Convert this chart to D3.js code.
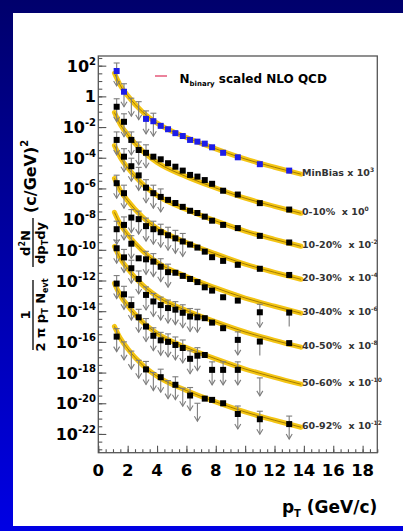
<!DOCTYPE html>
<html>
<head>
<meta charset="utf-8">
<script src="https://cdn.jsdelivr.net/npm/d3@7"></script>
<style>
  html, body { margin: 0; padding: 0; }
  body { width: 403px; height: 531px; overflow: hidden; background: linear-gradient(#00006c, #0000e4); }
  text { font-family: "DejaVu Sans", sans-serif; font-weight: bold; white-space: pre; }
</style>
</head>
<body>
<div id="chart"></div>
<script>
// pT bin centres (GeV/c)
const ptBins = [1.25, 1.75, 2.25, 2.75, 3.25, 3.75, 4.25, 4.75, 5.25, 5.75, 6.25, 6.75, 7.25, 7.75, 8.5, 9.5, 11, 13];

// yields per class (already multiplied by the class factor)
// kind: o = point, a = point + upper-limit arrow, l = limit only, e = point + long error, - = nothing
const minBias   = [45, 2.0, 0.76, 0.45, 3.4e-2, 2.4e-2, 1.2e-2, 7.2e-3, 4.0e-3, 2.6e-3, 1.45e-3, 1.12e-3, 8.3e-4, 4.8e-4, 2.1e-4, 1.07e-4, 3.8e-5, 1.45e-5];
const minBiasK  = "aallaaoooooooooooo";
const cent0010  = [0.21, 2.2e-2, 1.45e-3, 3.2e-4, 2.1e-4, 1.17e-4, 7.9e-5, 4.4e-5, 2.6e-5, 1.45e-5, 7.6e-6, 5.9e-6, 3.5e-6, 2.0e-6, 7.1e-7, 4.0e-7, 1.1e-7, 4.2e-8];
const cent0010K = "aaaaaooooooooooooo";
const cent1020  = [1.45e-3, 1.17e-4, 2.8e-5, 7.1e-6, 1.12e-6, 4.9e-7, 2.8e-7, 1.8e-7, 1.12e-7, 6.3e-8, 3.5e-8, 2.5e-8, 1.45e-8, 7.9e-9, 4.2e-9, 2.6e-9, 8.1e-10, 3.0e-10];
const cent1020K = "aaaaaaaooooooooooo";
const cent2030  = [2.2e-6, 4.9e-7, 1.26e-8, 1.0e-8, 3.5e-9, 2.2e-9, 1.4e-9, 8.9e-10, 5.6e-10, 3.5e-10, 2.2e-10, 1.4e-10, 7.6e-11, 3.3e-11, 1.9e-11, 1.05e-11, 5.8e-12, 2.3e-12];
const cent2030K = "aaaaaaaaaaoooooooo";
const cent3040  = [2.2e-9, 4.2e-9, 2.5e-10, 2.8e-11, 2.4e-11, 1.7e-11, 7.9e-12, 3.5e-12, 3.2e-12, 2.0e-12, 1.26e-12, 7.9e-13, 3.6e-13, 2.2e-13, 8.1e-14, 4.9e-14, 8.5e-15, 8.1e-15];
const cent3040K = "aaaoaaaaooooooooae";
const cent4050  = [1.26e-10, 3.2e-11, 6.3e-12, 1.26e-12, 1.15e-13, 4.3e-14, 2.5e-14, 1.6e-14, 1.26e-14, 7.9e-15, 4.5e-15, 4.0e-15, 3.5e-15, 1.8e-15, 7.8e-16, 1.35e-16, 1.05e-16, 8.3e-17];
const cent4050K = "aaaaaaaaaaaaoooaeo";
const cent5060  = [6.3e-13, 1.26e-13, 2.5e-14, 4.0e-15, 1.0e-15, 2.5e-16, 1.26e-16, 1.0e-16, 6.3e-17, 4.0e-17, 7.9e-18, 1.26e-17, 1.4e-17, 1.5e-18, 1.5e-18, 1.5e-18, 4.5e-19, null];
const cent5060K = "aaaaaaaaaaaaoaaal-";
const cent6092  = [2.2e-16, 1.0e-16, 2.5e-17, 6.3e-18, 1.6e-18, 1.0e-18, 5.0e-19, 3.0e-19, 1.6e-19, 9.5e-20, 3.2e-20, 1.0e-20, 2.0e-20, 1.66e-20, 1.0e-20, 2.0e-21, 9.1e-22, 4.4e-22];
const cent6092K = "alllalalalaloooaaa";

// N_binary scaled NLO QCD curves
const curvePt     = [1.1, 1.5, 2, 3, 4, 6, 8, 10, 12, 13.8];
const nloMinBias  = [32, 5.2, 1.12, 0.1, 1.8e-2, 2.1e-3, 3.8e-4, 8.3e-5, 2.4e-5, 8.5e-6];
const nlo0010     = [8.9e-2, 1.48e-2, 3.2e-3, 2.8e-4, 5.0e-5, 5.9e-6, 1.07e-6, 2.3e-7, 6.8e-8, 2.4e-8];
const nlo1020     = [6.3e-4, 1.05e-4, 2.2e-5, 2.0e-6, 3.5e-7, 4.2e-8, 7.6e-9, 1.66e-9, 4.8e-10, 1.7e-10];
const nlo2030     = [4.5e-6, 7.4e-7, 1.6e-7, 1.4e-8, 2.5e-9, 3.0e-10, 5.4e-11, 1.17e-11, 3.4e-12, 1.2e-12];
const nlo3040     = [2.75e-8, 4.6e-9, 9.8e-10, 8.7e-11, 1.55e-11, 1.8e-12, 3.3e-13, 7.2e-14, 2.1e-14, 7.4e-15];
const nlo4050     = [1.66e-10, 2.75e-11, 5.9e-12, 5.2e-13, 9.3e-14, 1.1e-14, 2.0e-15, 4.4e-16, 1.26e-16, 4.5e-17];
const nlo5060     = [6.5e-13, 1.07e-13, 2.3e-14, 2.0e-15, 3.6e-16, 4.3e-17, 7.8e-18, 1.7e-18, 4.9e-19, 1.74e-19];
const nlo6092     = [1.02e-15, 1.7e-16, 3.6e-17, 3.2e-18, 5.8e-19, 6.8e-20, 1.23e-20, 2.7e-21, 7.8e-22, 2.75e-22];

const classNames = ["MinBias", "0-10%", "10-20%", "20-30%", "30-40%", "40-50%", "50-60%", "60-92%"];
const classExp   = ["3", "0", "-2", "-4", "-6", "-8", "-10", "-12"];
const classSep   = [" x 10", "  x 10", "  x 10", "  x 10", "  x 10", "  x 10", "  x 10", "  x 10"];

const yTicks = ["2", "0", "-2", "-4", "-6", "-8", "-10", "-12", "-14", "-16", "-18", "-20", "-22"];
const xTicks = [0, 2, 4, 6, 8, 10, 12, 14, 16, 18];

const series = [
  { name: classNames[0], vals: minBias,  kind: minBiasK,  nlo: nloMinBias, color: "#1d1de8" },
  { name: classNames[1], vals: cent0010, kind: cent0010K, nlo: nlo0010, color: "#000" },
  { name: classNames[2], vals: cent1020, kind: cent1020K, nlo: nlo1020, color: "#000" },
  { name: classNames[3], vals: cent2030, kind: cent2030K, nlo: nlo2030, color: "#000" },
  { name: classNames[4], vals: cent3040, kind: cent3040K, nlo: nlo3040, color: "#000" },
  { name: classNames[5], vals: cent4050, kind: cent4050K, nlo: nlo4050, color: "#000" },
  { name: classNames[6], vals: cent5060, kind: cent5060K, nlo: nlo5060, color: "#000" },
  { name: classNames[7], vals: cent6092, kind: cent6092K, nlo: nlo6092, color: "#000" }
];

const W = 403, H = 531;
const frame = { left: 98.3, right: 377.3, top: 56, bottom: 452.7 };

const svg = d3.select("#chart").append("svg")
  .attr("width", W)
  .attr("height", H);

// white slide area
svg.append("rect")
  .attr("x", 13).attr("y", 13)
  .attr("width", W - 13).attr("height", 526 - 13)
  .attr("fill", "#fff");

const x = d3.scaleLinear().domain([0, 19]).range([frame.left, frame.right]);
const y = d3.scaleLog().domain([6e-24, 427]).range([frame.bottom, frame.top]);

// NLO bands
const line = d3.line()
  .x((d, i) => x(curvePt[i]))
  .y(d => y(d))
  .curve(d3.curveMonotoneX);

const plot = svg.append("g");

series.forEach(s => {
  plot.append("path")
    .attr("d", line(s.nlo))
    .attr("fill", "none")
    .attr("stroke", "#f4c514")
    .attr("stroke-width", 5)
    .attr("stroke-linecap", "round");
  plot.append("path")
    .attr("d", line(s.nlo))
    .attr("fill", "none")
    .attr("stroke", "#9a7400")
    .attr("stroke-width", 0.9);
});

// arrows / error bars
const grey = "#7d7d7d";
series.forEach(s => {
  s.vals.forEach((v, i) => {
    const k = s.kind[i];
    if (v == null || k === "o" || k === "-") return;
    const cx = x(ptBins[i]);
    const cy = y(v);
    const g = plot.append("g")
      .attr("stroke", grey)
      .attr("stroke-width", 1.1)
      .attr("fill", "none");
    if (k === "e") {
      g.append("line").attr("x1", cx).attr("x2", cx).attr("y1", cy).attr("y2", cy + 14);
      return;
    }
    const top = k === "l" ? cy : cy - 8;
    const bot = k === "l" ? cy + 18 : cy + 15;
    g.append("line").attr("x1", cx - 3).attr("x2", cx + 3).attr("y1", top).attr("y2", top);
    g.append("line").attr("x1", cx).attr("x2", cx).attr("y1", top).attr("y2", bot);
    g.append("path").attr("d", `M${cx - 3},${bot - 5}L${cx},${bot}L${cx + 3},${bot - 5}`);
  });
});

// markers
series.forEach(s => {
  plot.selectAll(null)
    .data(s.vals.map((v, i) => ({ v, pt: ptBins[i], k: s.kind[i] }))
      .filter(d => d.v != null && d.k !== "l" && d.k !== "-"))
    .join("rect")
    .attr("x", d => x(d.pt) - 3)
    .attr("y", d => y(d.v) - 3)
    .attr("width", 6)
    .attr("height", 6)
    .attr("fill", s.color);
});

// class labels at the end of each band
series.forEach((s, i) => {
  const t = svg.append("text")
    .attr("x", x(13.8) + 1)
    .attr("y", y(s.nlo[s.nlo.length - 1]) + 2)
    .attr("font-size", 9.5)
    .attr("fill", "#333");
  t.append("tspan").text(s.name + classSep[i]);
  t.append("tspan").attr("dy", -4).attr("font-size", 6).text(classExp[i]);
});

// frame
svg.append("rect")
  .attr("x", frame.left).attr("y", frame.top)
  .attr("width", frame.right - frame.left)
  .attr("height", frame.bottom - frame.top)
  .attr("fill", "none")
  .attr("stroke", "#555")
  .attr("stroke-width", 1.3);

// y ticks (inside the frame)
const yMajor = yTicks.map(e => Math.pow(10, +e));
const yMinor = d3.range(-23, 2.51, 0.5).map(e => Math.pow(10, e));

const yAxisMinor = svg.append("g")
  .attr("transform", `translate(${frame.left},0)`)
  .call(d3.axisRight(y).tickValues(yMinor).tickSize(4).tickFormat(""));
const yAxisMajor = svg.append("g")
  .attr("transform", `translate(${frame.left},0)`)
  .call(d3.axisRight(y).tickValues(yMajor).tickSize(8).tickFormat(""));

// x ticks (inside the frame)
const xAxisMinor = svg.append("g")
  .attr("transform", `translate(0,${frame.bottom})`)
  .call(d3.axisTop(x).tickValues(d3.range(0, 19.01, 0.5)).tickSize(3.5).tickFormat(""));
const xAxisMajor = svg.append("g")
  .attr("transform", `translate(0,${frame.bottom})`)
  .call(d3.axisTop(x).tickValues(xTicks).tickSize(7).tickFormat(""));

[yAxisMinor, yAxisMajor, xAxisMinor, xAxisMajor].forEach(a => {
  a.select(".domain").remove();
  a.selectAll("line").attr("stroke", "#555").attr("stroke-width", 1.1);
});

// y tick labels 10^n
yTicks.forEach(e => {
  const t = svg.append("text")
    .attr("x", 96)
    .attr("y", y(Math.pow(10, +e)) + 6)
    .attr("text-anchor", "end")
    .attr("font-size", 16)
    .attr("fill", "#000");
  if (e === "0") {
    t.text("1");
  } else {
    t.append("tspan").text("10");
    t.append("tspan").attr("dy", -7).attr("font-size", 10).text(e);
  }
});

// x tick labels
svg.selectAll(null)
  .data(xTicks)
  .join("text")
  .attr("x", d => x(d))
  .attr("y", 476)
  .attr("text-anchor", "middle")
  .attr("font-size", 16.5)
  .attr("fill", "#000")
  .text(d => d);

// x title
const xt = svg.append("text")
  .attr("x", frame.right)
  .attr("y", 513)
  .attr("text-anchor", "end")
  .attr("font-size", 17)
  .attr("fill", "#000");
xt.append("tspan").text("p");
xt.append("tspan").attr("dy", 4).attr("font-size", 10).text("T");
xt.append("tspan").attr("dy", -4).text(" (GeV/c)");

// y title built from fractions, rotated
const yt = svg.append("g")
  .attr("transform", "translate(33,350) rotate(-90)")
  .attr("fill", "#000");
yt.append("line").attr("x1", 0).attr("x2", 70).attr("y1", 0).attr("y2", 0)
  .attr("stroke", "#000").attr("stroke-width", 1.3);
yt.append("text").attr("x", 35).attr("y", -3).attr("text-anchor", "middle")
  .attr("font-size", 13).text("1");
const den1 = yt.append("text").attr("x", 35).attr("y", 12).attr("text-anchor", "middle")
  .attr("font-size", 13);
den1.append("tspan").text("2 \u03c0 p");
den1.append("tspan").attr("dy", 3).attr("font-size", 8).text("T");
den1.append("tspan").attr("dy", -3).text(" N");
den1.append("tspan").attr("dy", 3).attr("font-size", 8).text("evt");

yt.append("line").attr("x1", 83).attr("x2", 132).attr("y1", 0).attr("y2", 0)
  .attr("stroke", "#000").attr("stroke-width", 1.3);
const num2 = yt.append("text").attr("x", 107).attr("y", -3).attr("text-anchor", "middle")
  .attr("font-size", 13);
num2.append("tspan").text("d");
num2.append("tspan").attr("dy", -5).attr("font-size", 8).text("2");
num2.append("tspan").attr("dy", 5).text("N");
const den2 = yt.append("text").attr("x", 107).attr("y", 12).attr("text-anchor", "middle")
  .attr("font-size", 13);
den2.append("tspan").text("dp");
den2.append("tspan").attr("dy", 3).attr("font-size", 8).text("T");
den2.append("tspan").attr("dy", -3).text("dy");

const unit = yt.append("text").attr("x", 137).attr("y", 3)
  .attr("font-size", 16);
unit.append("tspan").text("(c/GeV)");
unit.append("tspan").attr("dy", -8).attr("font-size", 10).text("2");

// legend
svg.append("line")
  .attr("x1", 155).attr("x2", 167).attr("y1", 76).attr("y2", 76)
  .attr("stroke", "#e4587a").attr("stroke-width", 1.5);
const lg = svg.append("text")
  .attr("x", 179.5).attr("y", 82.5)
  .attr("font-size", 12)
  .attr("fill", "#000");
lg.append("tspan").text("N");
lg.append("tspan").attr("dy", 3).attr("font-size", 7).text("binary");
lg.append("tspan").attr("dy", -3).text(" scaled NLO QCD");
</script>
</body>
</html>
